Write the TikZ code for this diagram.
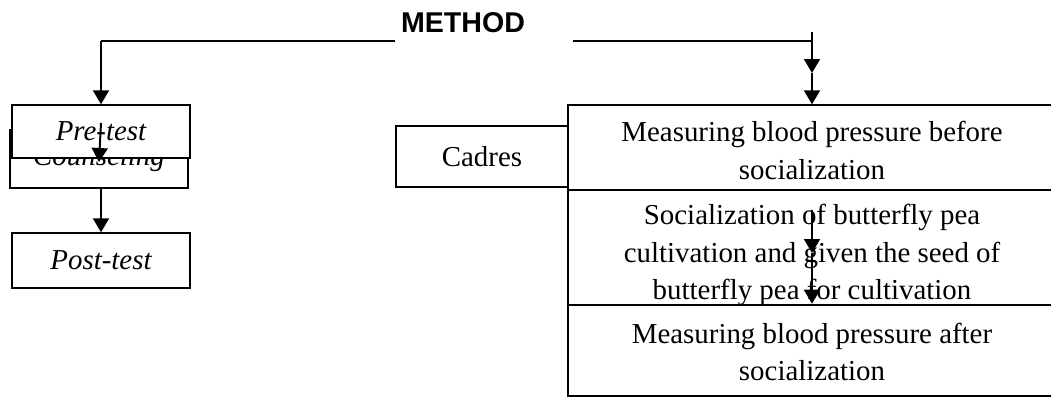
\documentclass[tikz,border=0pt]{standalone}
\usepackage{fontspec}
\setmainfont{Liberation Serif}
\newfontfamily\headfont{Liberation Sans}
\usepackage{tikz}
\usetikzlibrary{arrows.meta}

\newcommand{\lowtext}[2]{\raisebox{#1}[\height][\depth]{\parbox{460pt}{\centering #2}}}

\begin{document}
\begin{tikzpicture}[x=1pt,y=-1pt,
    box/.style={draw=black,fill=white,line width=1.4pt,inner sep=0pt,align=center,
      font=\fontsize{28.9}{37.3}\selectfont},
    link/.style={line width=2pt,-{Triangle[length=14pt,width=16pt]}},
    plain/.style={line width=1.6pt}]
                    \useasboundingbox (0,0) rectangle (1051,397);
                    \node[text=black,font=\headfont\bfseries\fontsize{28.6}{34}\selectfont] (method) at (463,23) {METHOD};
                    \node[box,minimum width=178pt,minimum height=58pt] (coun) at (99,159) {\itshape Counseling};
                    \node[box,minimum width=178pt,minimum height=53pt] (pre) at (101,131.5) {\itshape Pre-test};
                    \node[box,minimum width=178pt,minimum height=55pt] (post) at (101,260.5) {\itshape Post-test};
                    \node[box,minimum width=172pt,minimum height=61pt] (cadres) at (482,156.5) {Cadres};
                    \node[box,minimum width=488pt,minimum height=85pt] (b1) at (812,147.5) {\lowtext{-3pt}{Measuring blood pressure before\\socialization}};
                    \node[box,minimum width=488pt,minimum height=115pt] (b2) at (812,247.5) {\lowtext{-7.5pt}{Socialization of butterfly pea\\cultivation and given the seed of\\butterfly pea for cultivation}};
                    \node[box,minimum width=488pt,minimum height=91pt] (b3) at (812,350.5) {\lowtext{-1.5pt}{Measuring blood pressure after\\socialization}};

                    \coordinate (ml) at (395,41);
                    \coordinate (lt) at (101,41);
                    \coordinate (mr) at (573,41);
                    \coordinate (rc) at (812,41);
                    \coordinate (rt) at (812,32);
                    \coordinate (rm) at (812,73);

                    \draw[plain] (ml) -- (lt);
                    \draw[plain] (mr) -- (rc);
                    \draw[link] (lt) -- (pre.north);
                    \draw[link] (rt) -- (rm);
                    \draw[link] (rm) -- (b1.north);
                    \draw[link] ([yshift=8.5pt]pre.center) -- ([yshift=-3pt]coun.center);
                    \draw[link] (coun.south -| post.north) -- (post.north);
                    \draw[link] ([yshift=37.5pt]b2.center) -- ([yshift=-5.5pt]b2.center);
                    \draw[link] ([yshift=-5.5pt]b2.center) -- ([yshift=2pt]b2.south);
                \end{tikzpicture}
\end{document}
